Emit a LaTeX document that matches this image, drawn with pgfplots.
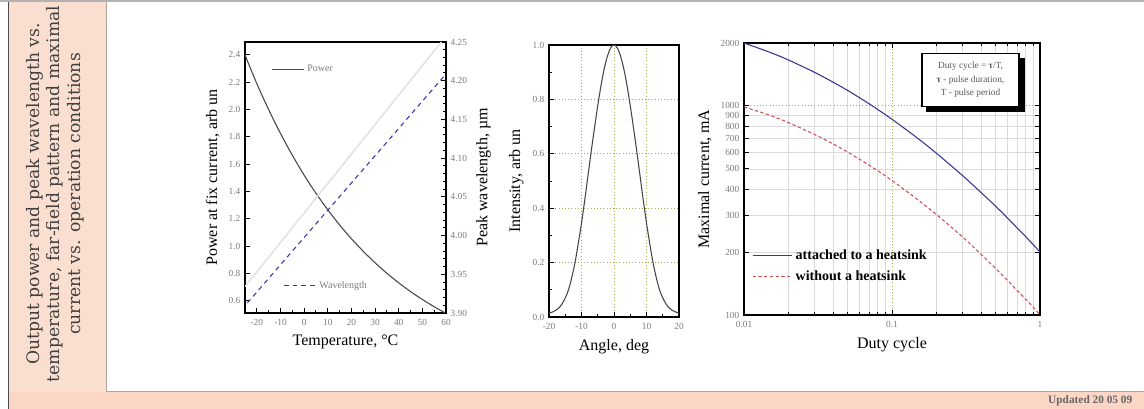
\documentclass[border=0pt]{standalone}
\usepackage{fontspec}
\setmainfont{Liberation Serif}
\newfontfamily\titlefont{DejaVu Serif}
\usepackage{pgfplots}
\pgfplotsset{compat=1.18}

\definecolor{peach}{RGB}{252,214,196}
\definecolor{strip}{RGB}{250,223,208}
\definecolor{ticklab}{RGB}{125,125,125}
\definecolor{olivegrid}{RGB}{165,170,80}
\definecolor{wlblue}{RGB}{55,55,175}
\definecolor{hsblue}{RGB}{55,55,145}
\definecolor{nohsred}{RGB}{205,80,90}
\definecolor{faint}{RGB}{224,224,234}

\pgfplotsset{
  base/.style={
    scale only axis,
    anchor=south west,
    tick align=inside,
    axis line style={line width=1.1pt},
    major tick length=4pt,
    minor tick length=2.2pt,
    tick style={black, line width=0.7pt},
    tick label style={font=\fontsize{7}{8}\selectfont, text=ticklab},
    xticklabel style={yshift=-1.5pt},
    label style={font=\fontsize{12}{14}\selectfont},
    /pgf/number format/assume math mode=true,
  },
}

\begin{document}
\begin{tikzpicture}
\begin{scope}[x=0.75pt,y=0.75pt]
\path[use as bounding box] (0,0) rectangle (1144,409);
% page background
\fill[white] (0,0) rectangle (1144,409);
\fill[peach] (8,0) rectangle (1144,17);
\fill[strip] (8,17) rectangle (106,407);
\fill[white] (106,17) rectangle (1144,407);
\draw[gray!60!peach, line width=0.75pt] (106,407) -- (106,17) -- (1144,17);
\draw[black!70, line width=0.75pt] (8,0) -- (8,409);
\draw[gray!60, line width=1.5pt] (0,408) -- (1144,408);
\node[rotate=90, align=center, text=black!75, font=\titlefont\fontsize{12.9}{15.5}\selectfont]
  at (55,215) {Output power and peak wavelength vs.\\temperature, far-field pattern and maximal\\current vs. operation conditions};
\node[anchor=east, text=black!60, font=\fontsize{8.5}{10}\selectfont\bfseries] at (1137,8) {Updated 20 05 09};
\end{scope}

% chart 1: power (left axis)
\begin{axis}[base, at={(183.75pt,72pt)}, width=150.75pt, height=203.25pt,
  xmin=-25, xmax=60, ymin=0.51, ymax=2.495,
  xtick={-20,-10,0,10,20,30,40,50,60}, minor x tick num=1,
  ytick={0.6,0.8,1.0,1.2,1.4,1.6,1.8,2.0,2.2,2.4},
  xtick pos=bottom, ytick pos=left,
  yticklabel style={/pgf/number format/.cd, fixed, fixed zerofill, precision=1},
  xlabel={Temperature, °C}, ylabel={Power at fix current, arb un},
  legend style={at={(0.11,0.9)}, anchor=west, draw=none, fill=none,
    font=\fontsize{7.5}{9}\selectfont, text=ticklab},
  legend image code/.code={\draw[#1] (0cm,0cm) -- (0.85cm,0cm);},
]
\addplot[black!72, line width=0.8pt, smooth] coordinates {
  (-25,2.40) (-20,2.19) (-15,2.00) (-10,1.825) (-5,1.666) (0,1.52) (5,1.387)
  (10,1.266) (15,1.155) (20,1.054) (25,0.962) (30,0.878) (35,0.801) (40,0.731)
  (45,0.667) (50,0.609) (55,0.556) (60,0.507)};
\addlegendentry{Power}
\end{axis}

% chart 1: wavelength (right axis)
\begin{axis}[base, at={(183.75pt,72pt)}, width=150.75pt, height=203.25pt,
  xmin=-25, xmax=60, ymin=3.90, ymax=4.25,
  axis x line=none, axis y line*=right,
  ytick={3.90,3.95,4.00,4.05,4.10,4.15,4.20,4.25}, minor y tick num=4,
  yticklabel style={/pgf/number format/.cd, fixed, fixed zerofill, precision=2},
  ylabel={Peak wavelength, µm},
  legend style={at={(0.17,0.1)}, anchor=west, draw=none, fill=none,
    font=\fontsize{7.5}{9}\selectfont, text=ticklab},
  legend image code/.code={\draw[#1] (0cm,0cm) -- (0.85cm,0cm);},
]
\addplot[forget plot, faint, line width=1.1pt] coordinates {(-25,3.934) (58,4.25)};
\addplot[wlblue, line width=0.8pt, dash pattern=on 3.5pt off 3pt] coordinates {(-24,3.913) (59.5,4.207)};
\addlegendentry{Wavelength}
\end{axis}

% chart 2: far field
\begin{axis}[base, at={(411.75pt,69pt)}, width=97.5pt, height=204pt,
  xmin=-20, xmax=20, ymin=0, ymax=1,
  xtick={-20,-10,0,10,20}, minor x tick num=1,
  ytick={0,0.2,0.4,0.6,0.8,1.0}, minor y tick num=1,
  xtick pos=bottom, ytick pos=left,
  yticklabel style={/pgf/number format/.cd, fixed, fixed zerofill, precision=1},
  grid=major, major grid style={olivegrid, dotted, line width=0.6pt},
  xlabel={Angle, deg}, ylabel={Intensity, arb un},
]
\addplot[black!72, line width=0.8pt, smooth] coordinates {
  (-20,0.014) (-19,0.018) (-18,0.024) (-17,0.033) (-16,0.048) (-15,0.07)
  (-14,0.10) (-13,0.145) (-12,0.20) (-11,0.27) (-10,0.345) (-9,0.43)
  (-8,0.52) (-7,0.61) (-6,0.695) (-5,0.777) (-4,0.851) (-3,0.913)
  (-2,0.96) (-1,0.99) (0,1.0) (1,0.99) (2,0.96) (3,0.913) (4,0.851)
  (5,0.777) (6,0.695) (7,0.61) (8,0.52) (9,0.43) (10,0.345) (11,0.27)
  (12,0.20) (13,0.145) (14,0.10) (15,0.07) (16,0.048) (17,0.033)
  (18,0.024) (19,0.018) (20,0.014)};
\end{axis}

% chart 3: maximal current vs duty cycle
\begin{axis}[base, xmode=log, ymode=log, at={(558pt,70.5pt)}, width=222pt, height=204pt,
  xmin=0.01, xmax=1, ymin=100, ymax=2000,
  xtick={0.01,1}, xticklabels={0.01,1},
  extra x ticks={0.1}, extra x tick labels={0.1},
  minor xtick={0.02,0.03,0.04,0.05,0.06,0.07,0.08,0.09,0.2,0.3,0.4,0.5,0.6,0.7,0.8,0.9},
  ytick={100,200,300,400,500,600,700,800,900,2000},
  yticklabels={100,200,300,400,500,600,700,800,900,2000},
  extra y ticks={1000}, extra y tick labels={1000},
  grid=both, major grid style={gray!28, line width=0.4pt}, minor grid style={gray!28, line width=0.4pt},
  extra tick style={grid=major, major grid style={olivegrid, dotted, line width=0.7pt}},
  xlabel={Duty cycle}, ylabel={Maximal current, mA},
  legend cell align=left,
  legend style={at={(0.013,0.262)}, anchor=north west, draw=none, fill=none,
    font=\fontsize{10.5}{12}\selectfont\bfseries, row sep=3.5pt},
  legend image code/.code={\draw[#1] (0cm,0cm) -- (1.05cm,0cm);},
]
\addplot[hsblue, line width=0.8pt, smooth] coordinates {
  (0.01,2000) (0.015,1804) (0.02,1658) (0.03,1447) (0.04,1299) (0.05,1187)
  (0.07,1024) (0.1,863) (0.15,698) (0.2,593) (0.3,464) (0.4,385) (0.5,332)
  (0.6,292) (0.7,261) (0.8,237) (0.9,217) (1,200)};
\addlegendentry{attached to a heatsink}
\addplot[nohsred, line width=0.8pt, dash pattern=on 2.5pt off 1.8pt, smooth] coordinates {
  (0.01,990) (0.015,901) (0.02,832) (0.03,730) (0.04,658) (0.05,602)
  (0.07,521) (0.1,440) (0.15,355) (0.2,302) (0.3,236) (0.4,195) (0.5,167)
  (0.6,147) (0.7,131) (0.8,119) (0.9,109) (1,100)};
\addlegendentry{without a heatsink}
\end{axis}

% note box with shadow
\begin{scope}[x=0.75pt,y=0.75pt]
\fill[black] (926,297) rectangle (1025,351);
\node[draw=black, line width=1.1pt, fill=white, align=center, text=black!65,
  font=\fontsize{7}{10}\selectfont, minimum width=73pt, minimum height=40pt]
  at (970.5,329) {Duty cycle = \textbf{τ}/T,\\\textbf{τ} - pulse duration,\\T - pulse period};
\end{scope}
\end{tikzpicture}
\end{document}
